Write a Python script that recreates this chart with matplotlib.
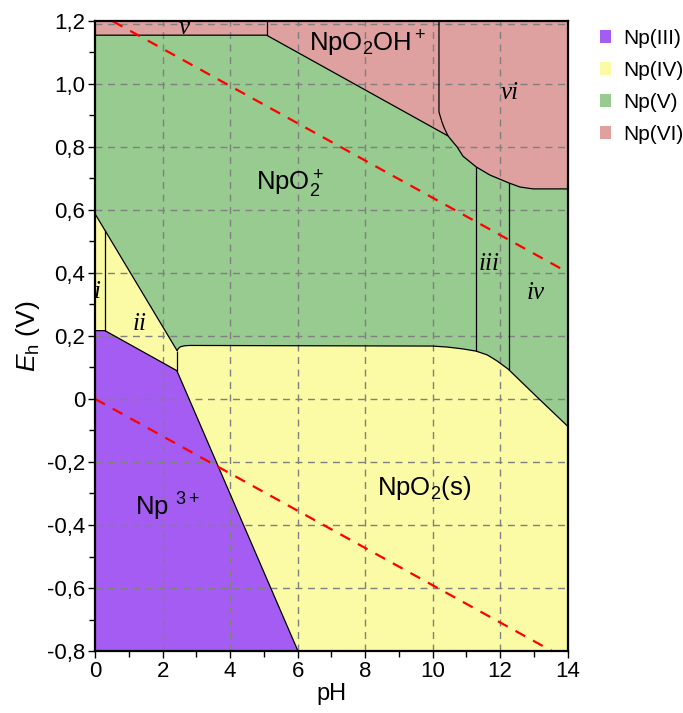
import matplotlib
matplotlib.use("Agg")
import matplotlib.pyplot as plt
from matplotlib.patches import Patch
from matplotlib.ticker import FixedLocator, FixedFormatter, MultipleLocator
import numpy as np

plt.rcParams['font.family'] = ['Liberation Sans', 'DejaVu Sans']
plt.rcParams['mathtext.fontset'] = 'custom'
plt.rcParams['mathtext.rm'] = 'Liberation Sans'
plt.rcParams['mathtext.it'] = 'Liberation Sans:italic'
plt.rcParams['mathtext.bf'] = 'Liberation Sans:bold'

# ---- data (pH, Eh in V) ----
xticks = [0, 2, 4, 6, 8, 10, 12, 14]
xtick_labels = ['0', '2', '4', '6', '8', '10', '12', '14']
yticks = [-0.8, -0.6, -0.4, -0.2, 0.0, 0.2, 0.4, 0.6, 0.8, 1.0, 1.2]
ytick_labels = ['-0,8', '-0,6', '-0,4', '-0,2', '0', '0,2', '0,4', '0,6', '0,8', '1,0', '1,2']

# Np(VI) lower boundary (v strip, NpO2OH+ line, curved edge of vi)
vi_ph = [0, 5.08, 10.46, 10.58, 10.73, 10.90, 11.29, 11.70, 12.26, 12.59, 12.98, 14]
vi_eh = [1.155, 1.155, 0.835, 0.819, 0.800, 0.771, 0.737, 0.711, 0.686, 0.673, 0.667, 0.667]
# NpO2OH+ / vi separation (vertical then curving into boundary)
vi_sep_ph = [10.19, 10.19, 10.24, 10.28, 10.34, 10.40, 10.46]
vi_sep_eh = [1.2, 0.911, 0.893, 0.879, 0.862, 0.848, 0.835]
# v / NpO2OH+ separation
v_sep_ph = [5.08, 5.08]
v_sep_eh = [1.2, 1.155]

# Np(V)/Np(IV) aqueous boundary
v4_ph = [0, 2.43]
v4_eh = [0.587, 0.153]
# NpO2(s) upper boundary
s_ph = [2.43, 2.46, 2.53, 2.65, 2.80, 10.0, 10.43, 10.90, 11.29, 11.62, 11.91, 12.24, 13.10, 14]
s_eh = [0.153, 0.160, 0.166, 0.169, 0.170, 0.168, 0.165, 0.159, 0.152, 0.140, 0.121, 0.095, 0.006, -0.086]
# Np(III) upper boundary
iii_ph = [0, 0.29, 2.42, 6.01]
iii_eh = [0.217, 0.217, 0.09, -0.8]
# internal dividers
i_ph, i_eh = [0.29, 0.29], [0.217, 0.535]
ii_ph, ii_eh = [2.43, 2.43], [0.153, 0.09]
iii_div_ph, iii_div_eh = [11.29, 11.29], [0.152, 0.737]
iv_div_ph, iv_div_eh = [12.26, 12.26], [0.093, 0.686]

# water stability lines
w_ph = [0, 14]
w_up = [1.23 - 0.0591 * p for p in w_ph]
w_lo = [-0.0591 * p for p in w_ph]

legend_labels = ['Np(III)', 'Np(IV)', 'Np(V)', 'Np(VI)']
colors = {'III': '#A55CF2', 'IV': '#FBFBA5', 'V': '#98CB8F', 'VI': '#DFA0A0'}

species = [
    ('NpO$_2$OH$^+$', 8.09, 1.103),
    ('NpO$_2^+$', 5.77, 0.662),
    ('Np $^{3+}$', 2.15, -0.37),
    ('NpO$_2$(s)', 9.75, -0.306),
]
roman = [('v', 2.63, 1.160), ('vi', 12.3, 0.951), ('iii', 11.67, 0.408),
         ('iv', 13.07, 0.316), ('ii', 1.33, 0.218), ('i', 0.07, 0.322)]

# ---- figure ----
fig = plt.figure(figsize=(6.83, 7.13), dpi=100)
ax = fig.add_axes([95.2 / 683, 62 / 713, 472.3 / 683, 630 / 713])
xmin, xmax, ymin, ymax = 0, 14, -0.8, 1.2
ax.set_xlim(xmin, xmax)
ax.set_ylim(ymin, ymax)

# background Np(V)
ax.fill([xmin, xmax, xmax, xmin], [ymin, ymin, ymax, ymax], color=colors['V'], lw=0, zorder=0)
# Np(VI)
ax.fill(vi_ph + [xmax, xmin], vi_eh + [ymax, ymax], color=colors['VI'], lw=0, zorder=1)
# Np(IV)
yel_x = v4_ph + s_ph[1:] + [xmax, iii_ph[-1]] + iii_ph[::-1][1:]
yel_y = v4_eh + s_eh[1:] + [ymin, iii_eh[-1]] + iii_eh[::-1][1:]
ax.fill(yel_x, yel_y, color=colors['IV'], lw=0, zorder=1)
# Np(III)
ax.fill(iii_ph + [xmin], iii_eh + [ymin], color=colors['III'], lw=0, zorder=2)

# grid
for xv in xticks[1:-1]:
    ax.axvline(xv, color='#808080', lw=1.0, ls=(0, (5, 4)), zorder=3)
for yv in yticks[1:-1]:
    ax.axhline(yv, color='#808080', lw=1.0, ls=(0, (5, 4)), zorder=3)
ax.axhline(yticks[-1] - 0.008, color='#808080', lw=1.0, ls=(0, (5, 4)), zorder=3)

# boundaries
bl = dict(color='black', lw=0.9, zorder=4, solid_capstyle='butt')
for xs, ys in [(vi_ph, vi_eh), (vi_sep_ph, vi_sep_eh), (v_sep_ph, v_sep_eh),
               (v4_ph, v4_eh), (s_ph, s_eh), (iii_ph, iii_eh), (i_ph, i_eh),
               (ii_ph, ii_eh), (iii_div_ph, iii_div_eh), (iv_div_ph, iv_div_eh)]:
    ax.plot(xs, ys, **bl)

# water lines
ax.plot(w_ph, w_up, color='red', lw=1.6, ls=(0, (5, 4)), zorder=5)
ax.plot(w_ph, w_lo, color='red', lw=1.6, ls=(0, (5, 4)), zorder=5)

# labels
for txt, x, y in species:
    ax.text(x, y, txt, fontsize=18.5, ha='center', va='baseline', zorder=6)
for txt, x, y in roman:
    ax.text(x, y, txt, fontsize=18, ha='center', va='baseline', zorder=6,
            family='Liberation Serif', style='italic')

# ticks
ax.xaxis.set_major_locator(FixedLocator(xticks))
ax.xaxis.set_major_formatter(FixedFormatter(xtick_labels))
ax.xaxis.set_minor_locator(MultipleLocator(1))
ax.yaxis.set_major_locator(FixedLocator(yticks))
ax.yaxis.set_major_formatter(FixedFormatter(ytick_labels))
ax.yaxis.set_minor_locator(MultipleLocator(0.1))
ax.tick_params(which='both', direction='out', labelsize=16, width=1.0, pad=2)
ax.tick_params(which='major', length=5)
ax.tick_params(which='minor', length=4)
for sp in ax.spines.values():
    sp.set_linewidth(1.6)
    sp.set_zorder(10)

ax.set_xlabel('pH', fontsize=17, labelpad=1)
ax.set_ylabel(r'$E_\mathrm{h}$ (V)', fontsize=19, labelpad=4)

handles = [Patch(facecolor=colors[k], edgecolor='none') for k in ['III', 'IV', 'V', 'VI']]
fig.legend(handles, legend_labels, loc='upper left', bbox_to_anchor=(600 / 683, 1 - 29 / 713),
           frameon=False, fontsize=15, handlelength=0.55, handleheight=0.55,
           handletextpad=0.55, labelspacing=0.62, borderpad=0, borderaxespad=0)

fig.savefig('out.png', dpi=100)
